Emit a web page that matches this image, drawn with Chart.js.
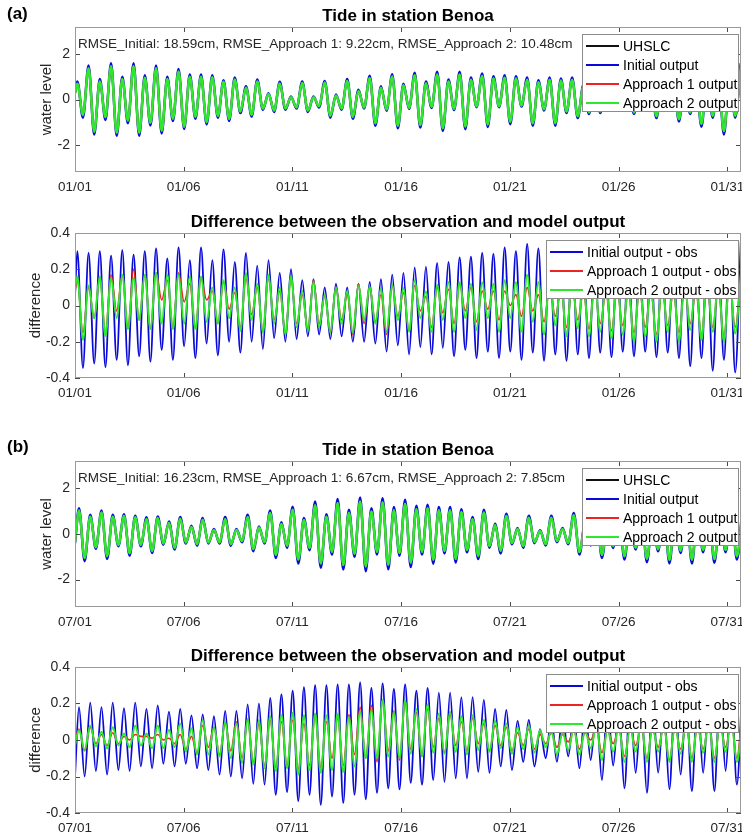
<!DOCTYPE html>
<html>
<head>
<meta charset="utf-8">
<title>Tide in station Benoa</title>
<script src="https://cdn.jsdelivr.net/npm/chart.js@4.4.1/dist/chart.umd.min.js"></script>
<style>
  body { margin: 0; background: #fff; }
  #wrap { position: relative; width: 742px; height: 838px; background: #fff; }
  canvas { position: absolute; left: 0; }
</style>
</head>
<body>
<div id="wrap">
  <canvas id="janTide" width="742" height="200" style="top:0px"></canvas>
  <canvas id="janDiff" width="742" height="210" style="top:200px"></canvas>
  <canvas id="julTide" width="742" height="230" style="top:410px"></canvas>
  <canvas id="julDiff" width="742" height="198" style="top:640px"></canvas>
</div>
<script>
'use strict';

// x axis: days since the 1st of the month
const tickDays = [0, 5, 10, 15, 20, 25, 30];
const janTickLabels = ['01/01', '01/06', '01/11', '01/16', '01/21', '01/26', '01/31'];
const julTickLabels = ['07/01', '07/06', '07/11', '07/16', '07/21', '07/26', '07/31'];
const tideTicks = [-2, 0, 2];
const diffTicks = [-0.4, -0.2, 0, 0.2, 0.4];

// each series: value at 00:00 on day 1, then the successive highs and lows
// (one every half tidal cycle)
const janFirstPeak = 0.107;
const julFirstPeak = 0.184;
const halfCycle = 0.2586;

const janTideObs = [0.28,
  0.7, -0.68, 1.38, -1.42, 0.8, -0.78, 1.47, -1.47, 0.9, -0.93,
  1.47, -1.47, 0.96, -1.03, 1.38, -1.38, 0.9, -0.85, 1.24, -1.2,
  1.0, -0.76, 1.0, -1.0, 0.98, -0.72, 0.78, -0.86, 0.88, -0.53,
  0.52, -0.67, 0.8, -0.4, 0.24, -0.49, 0.71, -0.4, 0.1, -0.35,
  0.73, -0.49, 0.1, -0.3, 0.75, -0.72, 0.18, -0.4, 0.82, -0.77,
  0.38, -0.35, 0.95, -1.05, 0.52, -0.44, 1.02, -1.16, 0.63, -0.37,
  1.07, -1.13, 0.72, -0.32, 1.1, -1.27, 0.79, -0.41, 1.1, -1.19,
  0.87, -0.3, 1.04, -1.1, 0.93, -0.3, 0.96, -0.98, 0.93, -0.27,
  0.87, -1.05, 0.76, -0.43, 0.87, -1.05, 0.84, -0.53, 0.87, -0.74,
  0.58, -0.57, 0.81, -0.53, 0.53, -0.44, 0.81, -0.44, 0.53, -0.57,
  0.81, -0.44, 0.63, -0.74, 0.81, -0.44, 0.72, -0.87, 0.81, -0.57,
  0.81, -1.08, 0.9, -0.72, 0.9, -1.4, 1.0, -0.72, 1.45];

const janTideInit = [0.3,
  0.8, -0.8, 1.5, -1.55, 0.9, -0.9, 1.6, -1.6, 1.0, -1.05,
  1.6, -1.6, 1.07, -1.15, 1.5, -1.5, 1.0, -0.95, 1.35, -1.3,
  1.1, -0.85, 1.1, -1.1, 1.07, -0.8, 0.85, -0.95, 0.97, -0.6,
  0.58, -0.75, 0.88, -0.45, 0.28, -0.55, 0.78, -0.45, 0.13, -0.4,
  0.8, -0.55, 0.13, -0.35, 0.82, -0.8, 0.22, -0.45, 0.9, -0.85,
  0.43, -0.4, 1.05, -1.16, 0.58, -0.5, 1.12, -1.27, 0.7, -0.42,
  1.18, -1.24, 0.8, -0.37, 1.22, -1.39, 0.88, -0.46, 1.22, -1.31,
  0.97, -0.34, 1.15, -1.21, 1.03, -0.34, 1.07, -1.09, 1.03, -0.31,
  0.97, -1.16, 0.85, -0.49, 0.97, -1.16, 0.93, -0.6, 0.97, -0.82,
  0.65, -0.64, 0.9, -0.6, 0.6, -0.5, 0.9, -0.5, 0.6, -0.64,
  0.9, -0.5, 0.7, -0.82, 0.9, -0.5, 0.8, -0.97, 0.9, -0.64,
  0.9, -1.2, 1.0, -0.8, 1.0, -1.55, 1.1, -0.8, 1.6];

const janDiffInit = [0.05,
  0.30, -0.345, 0.29, -0.32, 0.30, -0.34, 0.275, -0.30, 0.305, -0.33,
  0.28, -0.28, 0.30, -0.31, 0.315, -0.245, 0.26, -0.30, 0.32, -0.225,
  0.25, -0.29, 0.32, -0.21, 0.25, -0.275, 0.31, -0.2, 0.24, -0.26,
  0.29, -0.2, 0.22, -0.24, 0.25, -0.18, 0.18, -0.2, 0.2, -0.185,
  0.14, -0.17, 0.145, -0.16, 0.1, -0.185, 0.12, -0.17, 0.1, -0.2,
  0.12, -0.2, 0.13, -0.21, 0.145, -0.255, 0.17, -0.22, 0.18, -0.27,
  0.21, -0.23, 0.215, -0.27, 0.235, -0.235, 0.24, -0.28, 0.265, -0.245,
  0.27, -0.29, 0.29, -0.255, 0.285, -0.29, 0.32, -0.255, 0.30, -0.30,
  0.34, -0.26, 0.315, -0.305, 0.3, -0.27, 0.28, -0.305, 0.3, -0.27,
  0.27, -0.29, 0.28, -0.26, 0.25, -0.285, 0.27, -0.255, 0.25, -0.28,
  0.26, -0.255, 0.25, -0.285, 0.27, -0.26, 0.25, -0.29, 0.28, -0.335,
  0.26, -0.29, 0.3, -0.36, 0.27, -0.30, 0.33, -0.37, 0.355];

const janDiffApp1 = [0.08,
  0.14, -0.15, 0.1, -0.07, 0.15, -0.15, 0.17, -0.03, 0.17, -0.12,
  0.2, -0.08, 0.17, -0.13, 0.18, 0.03, 0.14, -0.12, 0.18, 0.02,
  0.12, -0.12, 0.15, 0.03, 0.08, -0.1, 0.13, -0.02, 0.07, -0.12,
  0.15, -0.05, 0.1, -0.14, 0.15, -0.08, 0.08, -0.15, 0.15, -0.1,
  0.06, -0.13, 0.14, -0.1, 0.05, -0.14, 0.1, -0.08, 0.06, -0.16,
  0.12, -0.1, 0.1, -0.09, 0.06, -0.16, 0.11, -0.06, 0.07, -0.14,
  0.11, -0.03, 0.05, -0.12, 0.1, -0.04, 0.09, -0.1, 0.12, -0.03,
  0.1, -0.09, 0.08, -0.02, 0.08, -0.08, 0.08, 0.0, 0.06, -0.06,
  0.1, -0.03, 0.06, -0.09, 0.1, -0.06, 0.08, -0.12, 0.1, -0.08,
  0.07, -0.13, 0.09, -0.1, 0.07, -0.14, 0.08, -0.11, 0.07, -0.15,
  0.08, -0.12, 0.07, -0.16, 0.09, -0.11, 0.07, -0.15, 0.09, -0.1,
  0.08, -0.16, 0.1, -0.12, 0.08, -0.17, 0.12, -0.12, 0.15];

const janDiffApp2 = [0.1,
  0.16, -0.19, 0.11, -0.07, 0.16, -0.17, 0.15, -0.07, 0.17, -0.13,
  0.15, -0.08, 0.17, -0.13, 0.18, -0.1, 0.17, -0.13, 0.17, -0.1,
  0.16, -0.13, 0.16, -0.09, 0.1, -0.1, 0.14, -0.07, 0.1, -0.14,
  0.18, -0.08, 0.12, -0.15, 0.17, -0.1, 0.1, -0.16, 0.16, -0.12,
  0.08, -0.14, 0.13, -0.12, 0.06, -0.15, 0.1, -0.1, 0.08, -0.15,
  0.11, -0.08, 0.105, -0.1, 0.095, -0.145, 0.115, -0.08, 0.095, -0.145,
  0.14, -0.07, 0.077, -0.145, 0.115, -0.08, 0.13, -0.145, 0.128, -0.07,
  0.12, -0.135, 0.128, -0.07, 0.12, -0.145, 0.14, -0.07, 0.128, -0.145,
  0.17, -0.09, 0.13, -0.16, 0.15, -0.11, 0.13, -0.17, 0.15, -0.125,
  0.12, -0.17, 0.14, -0.145, 0.12, -0.18, 0.13, -0.16, 0.12, -0.2,
  0.13, -0.17, 0.12, -0.2, 0.14, -0.145, 0.12, -0.2, 0.14, -0.135,
  0.13, -0.19, 0.15, -0.145, 0.13, -0.2, 0.16, -0.155, 0.17];

const julTideObs = [-0.35,
  1.03, -1.05, 0.76, -0.58, 0.94, -0.97, 0.76, -0.48, 0.79, -0.84,
  0.73, -0.48, 0.66, -0.74, 0.7, -0.42, 0.49, -0.61, 0.67, -0.37,
  0.31, -0.45, 0.63, -0.37, 0.18, -0.37, 0.66, -0.45, 0.18, -0.31,
  0.75, -0.66, 0.28, -0.36, 0.92, -0.91, 0.44, -0.52, 1.06, -1.12,
  0.61, -0.61, 1.26, -1.29, 0.76, -0.78, 1.36, -1.36, 0.93, -0.87,
  1.42, -1.42, 0.99, -0.78, 1.39, -1.35, 1.04, -0.83, 1.33, -1.26,
  1.09, -0.78, 1.13, -1.13, 1.04, -0.74, 1.04, -1.09, 0.96, -0.7,
  0.65, -0.96, 0.94, -0.53, 0.39, -0.74, 0.79, -0.39, 0.22, -0.53,
  0.71, -0.35, 0.13, -0.44, 0.71, -0.31, 0.22, -0.39, 0.82, -0.79,
  0.44, -0.44, 0.84, -0.92, 0.53, -0.53, 0.88, -0.98, 0.62, -0.6,
  0.92, -1.09, 0.66, -0.67, 0.97, -1.13, 0.7, -0.73, 0.97, -1.13,
  0.75, -0.7, 0.97, -1.1, 0.75, -0.7, 0.97, -0.98, 1.0];

const julTideInit = [-0.4,
  1.13, -1.19, 0.84, -0.65, 1.03, -1.09, 0.84, -0.54, 0.87, -0.95,
  0.8, -0.54, 0.73, -0.83, 0.77, -0.47, 0.55, -0.68, 0.74, -0.42,
  0.36, -0.51, 0.7, -0.42, 0.22, -0.42, 0.74, -0.51, 0.22, -0.36,
  0.84, -0.76, 0.33, -0.42, 1.03, -1.05, 0.51, -0.61, 1.2, -1.29,
  0.7, -0.71, 1.42, -1.48, 0.87, -0.9, 1.53, -1.56, 1.06, -1.0,
  1.6, -1.63, 1.13, -0.9, 1.57, -1.55, 1.18, -0.95, 1.5, -1.45,
  1.24, -0.9, 1.28, -1.3, 1.18, -0.85, 1.18, -1.25, 1.09, -0.8,
  0.74, -1.1, 1.06, -0.6, 0.45, -0.85, 0.89, -0.45, 0.26, -0.6,
  0.8, -0.4, 0.16, -0.5, 0.8, -0.36, 0.26, -0.45, 0.92, -0.9,
  0.5, -0.5, 0.95, -1.05, 0.6, -0.61, 1.0, -1.12, 0.7, -0.68,
  1.05, -1.24, 0.75, -0.76, 1.1, -1.29, 0.8, -0.83, 1.1, -1.29,
  0.85, -0.8, 1.1, -1.26, 0.85, -0.8, 1.1, -1.12, 1.13];

const julDiffInit = [-0.2,
  0.18, -0.2, 0.205, -0.17, 0.18, -0.19, 0.205, -0.165, 0.175, -0.17,
  0.205, -0.145, 0.17, -0.155, 0.19, -0.13, 0.155, -0.145, 0.17, -0.13,
  0.135, -0.155, 0.14, -0.165, 0.13, -0.19, 0.16, -0.2, 0.16, -0.21,
  0.195, -0.24, 0.2, -0.245, 0.23, -0.3, 0.25, -0.285, 0.27, -0.335,
  0.29, -0.3, 0.3, -0.355, 0.3, -0.31, 0.305, -0.345, 0.305, -0.3,
  0.315, -0.325, 0.285, -0.29, 0.31, -0.265, 0.28, -0.27, 0.305, -0.235,
  0.27, -0.245, 0.285, -0.22, 0.26, -0.23, 0.26, -0.21, 0.235, -0.21,
  0.235, -0.175, 0.22, -0.18, 0.17, -0.145, 0.165, -0.165, 0.105, -0.12,
  0.11, -0.145, 0.06, -0.1, 0.12, -0.12, 0.15, -0.09, 0.14, -0.155,
  0.18, -0.11, 0.17, -0.22, 0.21, -0.14, 0.19, -0.265, 0.23, -0.18,
  0.2, -0.29, 0.24, -0.18, 0.21, -0.27, 0.25, -0.19, 0.22, -0.28,
  0.26, -0.18, 0.23, -0.28, 0.27, -0.17, 0.29, -0.245, 0.33];

const julDiffApp1 = [0.0,
  0.06, -0.06, 0.07, -0.02, 0.03, -0.03, 0.04, -0.02, 0.02, 0.0,
  0.03, 0.02, 0.02, 0.01, 0.03, 0.0, 0.01, -0.02, 0.03, -0.05,
  0.02, -0.07, 0.08, -0.04, 0.07, -0.08, 0.09, -0.06, 0.1, -0.1,
  0.11, -0.12, 0.09, -0.14, 0.11, -0.15, 0.1, -0.14, 0.11, -0.16,
  0.09, -0.14, 0.13, -0.15, 0.1, -0.1, 0.12, -0.14, 0.14, -0.08,
  0.18, -0.1, 0.19, -0.12, 0.22, -0.06, 0.16, -0.11, 0.2, -0.05,
  0.15, -0.09, 0.17, -0.04, 0.12, -0.07, 0.14, -0.03, 0.1, -0.06,
  0.12, -0.02, 0.09, -0.06, 0.08, -0.03, 0.07, -0.06, 0.04, -0.03,
  0.06, -0.05, 0.03, -0.02, 0.04, -0.04, 0.03, -0.01, 0.05, -0.05,
  0.04, 0.0, 0.06, -0.07, 0.05, -0.02, 0.06, -0.09, 0.06, -0.03,
  0.07, -0.1, 0.06, -0.04, 0.07, -0.11, 0.07, -0.05, 0.08, -0.1,
  0.07, -0.05, 0.08, -0.1, 0.08, -0.04, 0.1, -0.1, 0.18];

const julDiffApp2 = [-0.03,
  0.055, -0.055, 0.08, -0.035, 0.045, -0.045, 0.07, -0.03, 0.035, -0.04,
  0.08, -0.03, 0.035, -0.045, 0.08, -0.045, 0.055, -0.04, 0.09, -0.065,
  0.065, -0.08, 0.11, -0.08, 0.07, -0.09, 0.1, -0.1, 0.09, -0.125,
  0.115, -0.135, 0.11, -0.155, 0.13, -0.17, 0.135, -0.155, 0.15, -0.19,
  0.135, -0.165, 0.145, -0.18, 0.135, -0.165, 0.145, -0.175, 0.125, -0.145,
  0.155, -0.1, 0.165, -0.1, 0.22, -0.09, 0.155, -0.1, 0.215, -0.075,
  0.17, -0.09, 0.195, -0.07, 0.145, -0.075, 0.155, -0.065, 0.13, -0.08,
  0.135, -0.055, 0.11, -0.065, 0.105, -0.045, 0.09, -0.075, 0.07, -0.05,
  0.08, -0.07, 0.055, -0.04, 0.05, -0.08, 0.04, -0.055, 0.06, -0.08,
  0.05, -0.045, 0.07, -0.11, 0.06, -0.065, 0.08, -0.12, 0.07, -0.065,
  0.09, -0.12, 0.08, -0.065, 0.09, -0.12, 0.08, -0.075, 0.1, -0.12,
  0.09, -0.07, 0.1, -0.12, 0.1, -0.065, 0.11, -0.12, 0.12];

const FONT = '"Liberation Sans", Arial, Helvetica, sans-serif';
const TEXT = '#262626';
const BLACK = '#111111';
const BLUE = '#0a0ad8';
const RED = '#ee2424';
const GREEN = '#2ee82e';

Chart.defaults.font.family = FONT;

function extremaTimes(firstPeak, count) {
  const t = [0];
  for (let i = 1; i < count; i++) {
    t.push(firstPeak + (i - 1) * halfCycle);
  }
  return t;
}

const janTimes = extremaTimes(janFirstPeak, janTideObs.length);
const julTimes = extremaTimes(julFirstPeak, julTideObs.length);

// box, inward ticks, title, note and legend drawn like the matlab axes
const decorations = {
  id: 'decorations',
  afterDraw(chart, args, opts) {
    const ctx = chart.ctx;
    const a = chart.chartArea;
    const xs = chart.scales.x;
    const ys = chart.scales.y;
    ctx.save();

    ctx.lineWidth = 1;
    ctx.strokeStyle = '#4a4a4a';
    ctx.beginPath();
    xs.ticks.forEach(function (t) {
      const px = Math.round(xs.getPixelForValue(t.value)) + 0.5;
      ctx.moveTo(px, a.bottom);
      ctx.lineTo(px, a.bottom - 5);
      ctx.moveTo(px, a.top);
      ctx.lineTo(px, a.top + 5);
    });
    ys.ticks.forEach(function (t) {
      const py = Math.round(ys.getPixelForValue(t.value)) + 0.5;
      ctx.moveTo(a.left, py);
      ctx.lineTo(a.left + 5, py);
      ctx.moveTo(a.right, py);
      ctx.lineTo(a.right - 5, py);
    });
    ctx.stroke();

    ctx.strokeStyle = '#9a9a9a';
    ctx.strokeRect(a.left + 0.5, a.top + 0.5, a.right - a.left - 1, a.bottom - a.top - 1);

    ctx.fillStyle = '#000';
    ctx.textBaseline = 'middle';
    ctx.font = 'bold 17px ' + FONT;
    ctx.textAlign = 'center';
    ctx.fillText(opts.title, (a.left + a.right) / 2, a.top - 11);

    if (opts.tag) {
      ctx.textAlign = 'left';
      ctx.fillText(opts.tag, 7, opts.tagY);
    }

    if (opts.note) {
      ctx.font = '13.5px ' + FONT;
      ctx.fillStyle = TEXT;
      ctx.textAlign = 'left';
      ctx.fillText(opts.note, a.left + 3, a.top + 17);
    }

    // legend box in the top right corner
    const sets = chart.data.datasets;
    const w = opts.legendWidth;
    const h = sets.length * 19 + 2;
    const lx = a.right - 2 - w;
    const ly = a.top + 7;
    ctx.fillStyle = '#fff';
    ctx.fillRect(lx, ly, w, h);
    ctx.strokeStyle = '#8c8c8c';
    ctx.strokeRect(lx + 0.5, ly + 0.5, w - 1, h - 1);
    ctx.font = '14px ' + FONT;
    ctx.textAlign = 'left';
    sets.forEach(function (ds, i) {
      const cy = ly + 12 + i * 19;
      ctx.strokeStyle = ds.borderColor;
      ctx.lineWidth = 2;
      ctx.beginPath();
      ctx.moveTo(lx + 4, cy);
      ctx.lineTo(lx + 37, cy);
      ctx.stroke();
      ctx.fillStyle = '#000';
      ctx.fillText(ds.label, lx + 41, cy + 1);
    });
    ctx.restore();
  }
};

function series(label, times, values, color, width, order) {
  const pts = [];
  for (let i = 0; i < values.length; i++) {
    pts.push({ x: times[i], y: values[i] });
  }
  return {
    label: label,
    data: pts,
    borderColor: color,
    borderWidth: width,
    pointRadius: 0,
    fill: false,
    cubicInterpolationMode: 'monotone',
    order: order
  };
}

function makePanel(id, p) {
  new Chart(document.getElementById(id), {
    type: 'line',
    data: { datasets: p.datasets },
    plugins: [decorations],
    options: {
      responsive: false,
      animation: false,
      devicePixelRatio: 1,
      events: [],
      layout: { padding: { top: p.padTop, left: p.padLeft, right: 1, bottom: 0 } },
      plugins: {
        legend: { display: false },
        tooltip: { enabled: false },
        decorations: {
          title: p.title,
          note: p.note,
          tag: p.tag,
          tagY: p.tagY,
          legendWidth: p.legendWidth
        }
      },
      scales: {
        x: {
          type: 'linear',
          min: 0,
          max: 30.63,
          grid: { display: false, drawTicks: false },
          border: { display: false },
          afterBuildTicks: function (s) {
            s.ticks = tickDays.map(function (v) { return { value: v }; });
          },
          afterFit: function (s) {
            s.height = p.xHeight;
            s.paddingLeft = 0;
            s.paddingRight = 0;
          },
          ticks: {
            autoSkip: false,
            maxRotation: 0,
            padding: 7,
            color: TEXT,
            font: { size: 13.5 },
            callback: function (v) { return p.tickLabels[tickDays.indexOf(v)]; }
          }
        },
        y: {
          type: 'linear',
          min: p.yMin,
          max: p.yMax,
          grid: { display: false, drawTicks: false },
          border: { display: false },
          afterBuildTicks: function (s) {
            s.ticks = p.yTicks.map(function (v) { return { value: v }; });
          },
          afterFit: function (s) {
            s.width = 75 - p.padLeft;
            s.paddingTop = 0;
            s.paddingBottom = 0;
          },
          ticks: { padding: 5, color: TEXT, font: { size: 14 } },
          title: { display: true, text: p.yTitle, color: TEXT, font: { size: 15 }, padding: 0 }
        }
      }
    }
  });
}

makePanel('janTide', {
  padTop: 27, padLeft: 38, xHeight: 28,
  title: 'Tide in station Benoa',
  note: 'RMSE_Initial: 18.59cm, RMSE_Approach 1: 9.22cm, RMSE_Approach 2: 10.48cm',
  tag: '(a)', tagY: 14, legendWidth: 157,
  tickLabels: janTickLabels, yMin: -3.2, yMax: 3.2, yTicks: tideTicks, yTitle: 'water level',
  // the two approach outputs lie on the observed curve at this scale
  datasets: [
    series('UHSLC', janTimes, janTideObs, BLACK, 1.2, 3),
    series('Initial output', janTimes, janTideInit, BLUE, 2.5, 2),
    series('Approach 1 output', janTimes, janTideObs, RED, 2, 1),
    series('Approach 2 output', janTimes, janTideObs, GREEN, 2.5, 0)
  ]
});

makePanel('janDiff', {
  padTop: 33, padLeft: 27, xHeight: 32,
  title: 'Difference between the observation and model output',
  legendWidth: 193,
  tickLabels: janTickLabels, yMin: -0.4, yMax: 0.4, yTicks: diffTicks, yTitle: 'difference',
  datasets: [
    series('Initial output - obs', janTimes, janDiffInit, BLUE, 1.8, 2),
    series('Approach 1 output - obs', janTimes, janDiffApp1, RED, 1.6, 1),
    series('Approach 2 output - obs', janTimes, janDiffApp2, GREEN, 2, 0)
  ]
});

makePanel('julTide', {
  padTop: 51, padLeft: 38, xHeight: 33,
  title: 'Tide in station Benoa',
  note: 'RMSE_Initial: 16.23cm, RMSE_Approach 1: 6.67cm, RMSE_Approach 2: 7.85cm',
  tag: '(b)', tagY: 37, legendWidth: 157,
  tickLabels: julTickLabels, yMin: -3.2, yMax: 3.2, yTicks: tideTicks, yTitle: 'water level',
  datasets: [
    series('UHSLC', julTimes, julTideObs, BLACK, 1.2, 3),
    series('Initial output', julTimes, julTideInit, BLUE, 2.5, 2),
    series('Approach 1 output', julTimes, julTideObs, RED, 2, 1),
    series('Approach 2 output', julTimes, julTideObs, GREEN, 2.5, 0)
  ]
});

makePanel('julDiff', {
  padTop: 27, padLeft: 27, xHeight: 25,
  title: 'Difference between the observation and model output',
  legendWidth: 193,
  tickLabels: julTickLabels, yMin: -0.4, yMax: 0.4, yTicks: diffTicks, yTitle: 'difference',
  datasets: [
    series('Initial output - obs', julTimes, julDiffInit, BLUE, 1.8, 2),
    series('Approach 1 output - obs', julTimes, julDiffApp1, RED, 1.6, 1),
    series('Approach 2 output - obs', julTimes, julDiffApp2, GREEN, 2, 0)
  ]
});
</script>
</body>
</html>
